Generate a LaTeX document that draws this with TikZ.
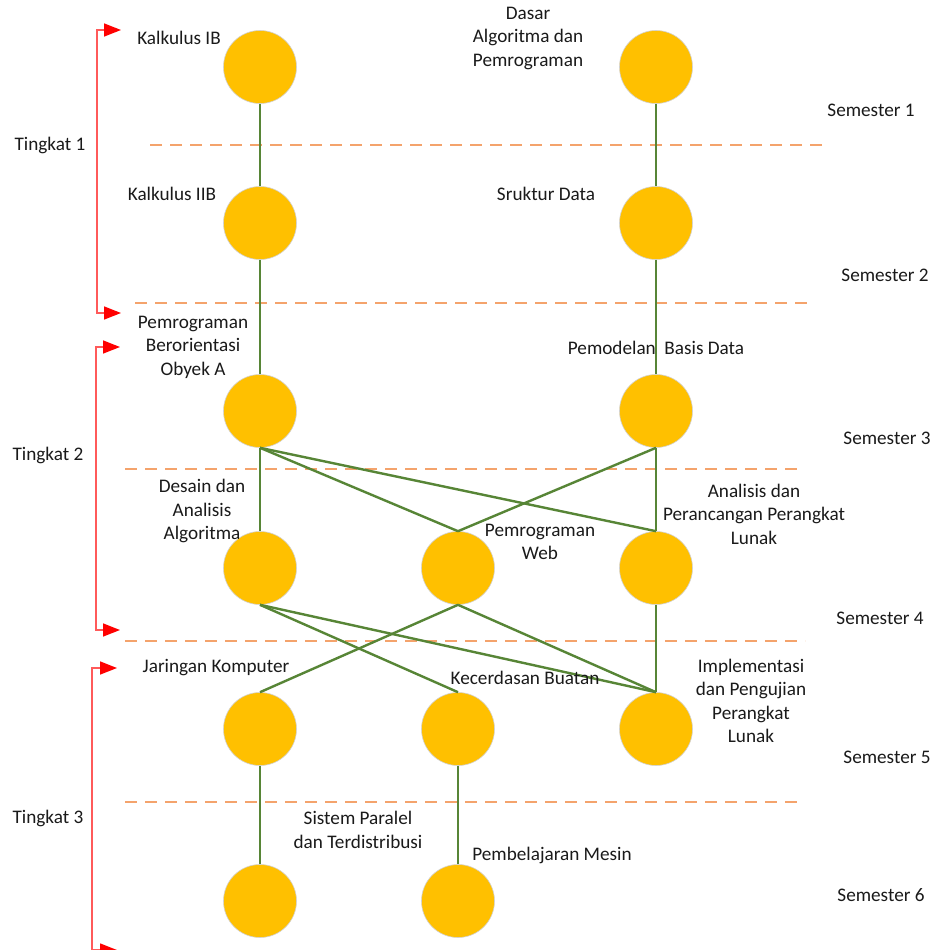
\documentclass[tikz,border=0pt]{standalone}
\usepackage{fontspec}
\setmainfont{Carlito}
\usetikzlibrary{arrows.meta}
\definecolor{gold}{HTML}{FFC000}
\definecolor{edgegreen}{HTML}{578536}
\definecolor{dashorange}{HTML}{F4A36C}
\definecolor{bracketred}{HTML}{FF5A5A}
\definecolor{txt}{HTML}{1A1A1A}
\tikzset{
  course/.style={circle, fill=gold, draw=black!18, line width=0.6pt, minimum size=73pt, inner sep=0pt},
  link/.style={draw=edgegreen, line width=2.4pt},
  semline/.style={draw=dashorange, line width=2pt, dash pattern=on 12pt off 8pt},
  bracket/.style={draw=bracketred, line width=1.5pt, {Triangle[length=17pt,width=13pt,color=red]}-{Triangle[length=17pt,width=13pt,color=red]}},
  lbl/.style={font=\fontsize{19.2}{23.5}\selectfont, text=txt, align=center, inner sep=0pt},
}
\begin{document}
\begin{tikzpicture}[x=1pt,y=-1pt]
\useasboundingbox (0,0) rectangle (935,950);
\fill[white] (0,0) rectangle (935,950);

% semester dashed lines
\draw[semline] (150,145) -- (822,145);
\draw[semline] (135,303) -- (808,303);
\draw[semline] (125,469) -- (802,469);
\draw[semline] (125,641) -- (805,641);
\draw[semline] (125,802) -- (798,802);

% courses
\node[course] (k1) at (260,67) {};
\node[course] (dap) at (656,67) {};
\node[course] (k2) at (260,223) {};
\node[course] (sd) at (656,223) {};
\node[course] (pbo) at (260,411) {};
\node[course] (pbd) at (656,411) {};
\node[course] (daa) at (260,568) {};
\node[course] (web) at (458,568) {};
\node[course] (appl) at (656,568) {};
\node[course] (jk) at (260,729) {};
\node[course] (kb) at (458,729) {};
\node[course] (ipl) at (656,729) {};
\node[course] (spt) at (260,901) {};
\node[course] (pm) at (458,901) {};

% connectors
\draw[link] (k1.south) -- (k2.north);
\draw[link] (dap.south) -- (sd.north);
\draw[link] (k2.south) -- (pbo.north);
\draw[link] (sd.south) -- (pbd.north);
\draw[link] (pbo.south) -- (daa.north);
\draw[link] (pbo.south) -- (web.north);
\draw[link] (pbo.south) -- (appl.north);
\draw[link] (pbd.south) -- (web.north);
\draw[link] (pbd.south) -- (appl.north);
\draw[link] (daa.south) -- (kb.north);
\draw[link] (daa.south) -- (ipl.north);
\draw[link] (web.south) -- (jk.north);
\draw[link] (web.south) -- (ipl.north);
\draw[link] (appl.south) -- (ipl.north);
\draw[link] (jk.south) -- (spt.north);
\draw[link] (kb.south) -- (pm.north);

% course labels
\node[lbl] (tk1) at (179,38) {Kalkulus IB};
\node[lbl] (tdap) at (528,38) {Dasar\\Algoritma dan\\Pemrograman};
\node[lbl] (tk2) at (172,194) {Kalkulus IIB};
\node[lbl] (tsd) at (546,194) {Sruktur Data};
\node[lbl] (tpbo) at (193,347) {Pemrograman\\Berorientasi\\Obyek A};
\node[lbl] (tpbd) at (656,348) {Pemodelan\ \ Basis Data};
\node[lbl] (tdaa) at (202,511) {Desain dan\\Analisis\\Algoritma};
\node[lbl] (tweb) at (540,542) {Pemrograman\\Web};
\node[lbl] (tappl) at (754,514) {Analisis dan\\Perancangan Perangkat\\Lunak};
\node[lbl] (tjk) at (216,668) {Jaringan Komputer};
\node[lbl] (tkb) at (525,678) {Kecerdasan Buatan};
\node[lbl] (tipl) at (751,701) {Implementasi\\dan Pengujian\\Perangkat\\Lunak};
\node[lbl] (tspt) at (358,830) {Sistem Paralel\\dan Terdistribusi};
\node[lbl] (tpm) at (552,855) {Pembelajaran Mesin};

% semester labels
\node[lbl] (s1) at (871,110) {Semester 1};
\node[lbl] (s2) at (885,275) {Semester 2};
\node[lbl] (s3) at (887,438) {Semester 3};
\node[lbl] (s4) at (880,618) {Semester 4};
\node[lbl] (s5) at (887,757) {Semester 5};
\node[lbl] (s6) at (881,895) {Semester 6};

% level labels
\node[lbl] (t1) at (50,145) {Tingkat 1};
\node[lbl] (t2) at (48,455) {Tingkat 2};
\node[lbl] (t3) at (48,818) {Tingkat 3};

% level brackets
\coordinate (b1a) at (121,30);
\coordinate (b1b) at (121,313);
\coordinate (b2a) at (120,347);
\coordinate (b2b) at (120,630);
\coordinate (b3a) at (117,668);
\coordinate (b3b) at (117,950);
\draw[bracket] (b1a) -- (97,30) -- (97,313) -- (b1b);
\draw[bracket] (b2a) -- (96,347) -- (96,630) -- (b2b);
\draw[bracket] (b3a) -- (92,668) -- (92,950) -- (b3b);
\end{tikzpicture}
\end{document}
